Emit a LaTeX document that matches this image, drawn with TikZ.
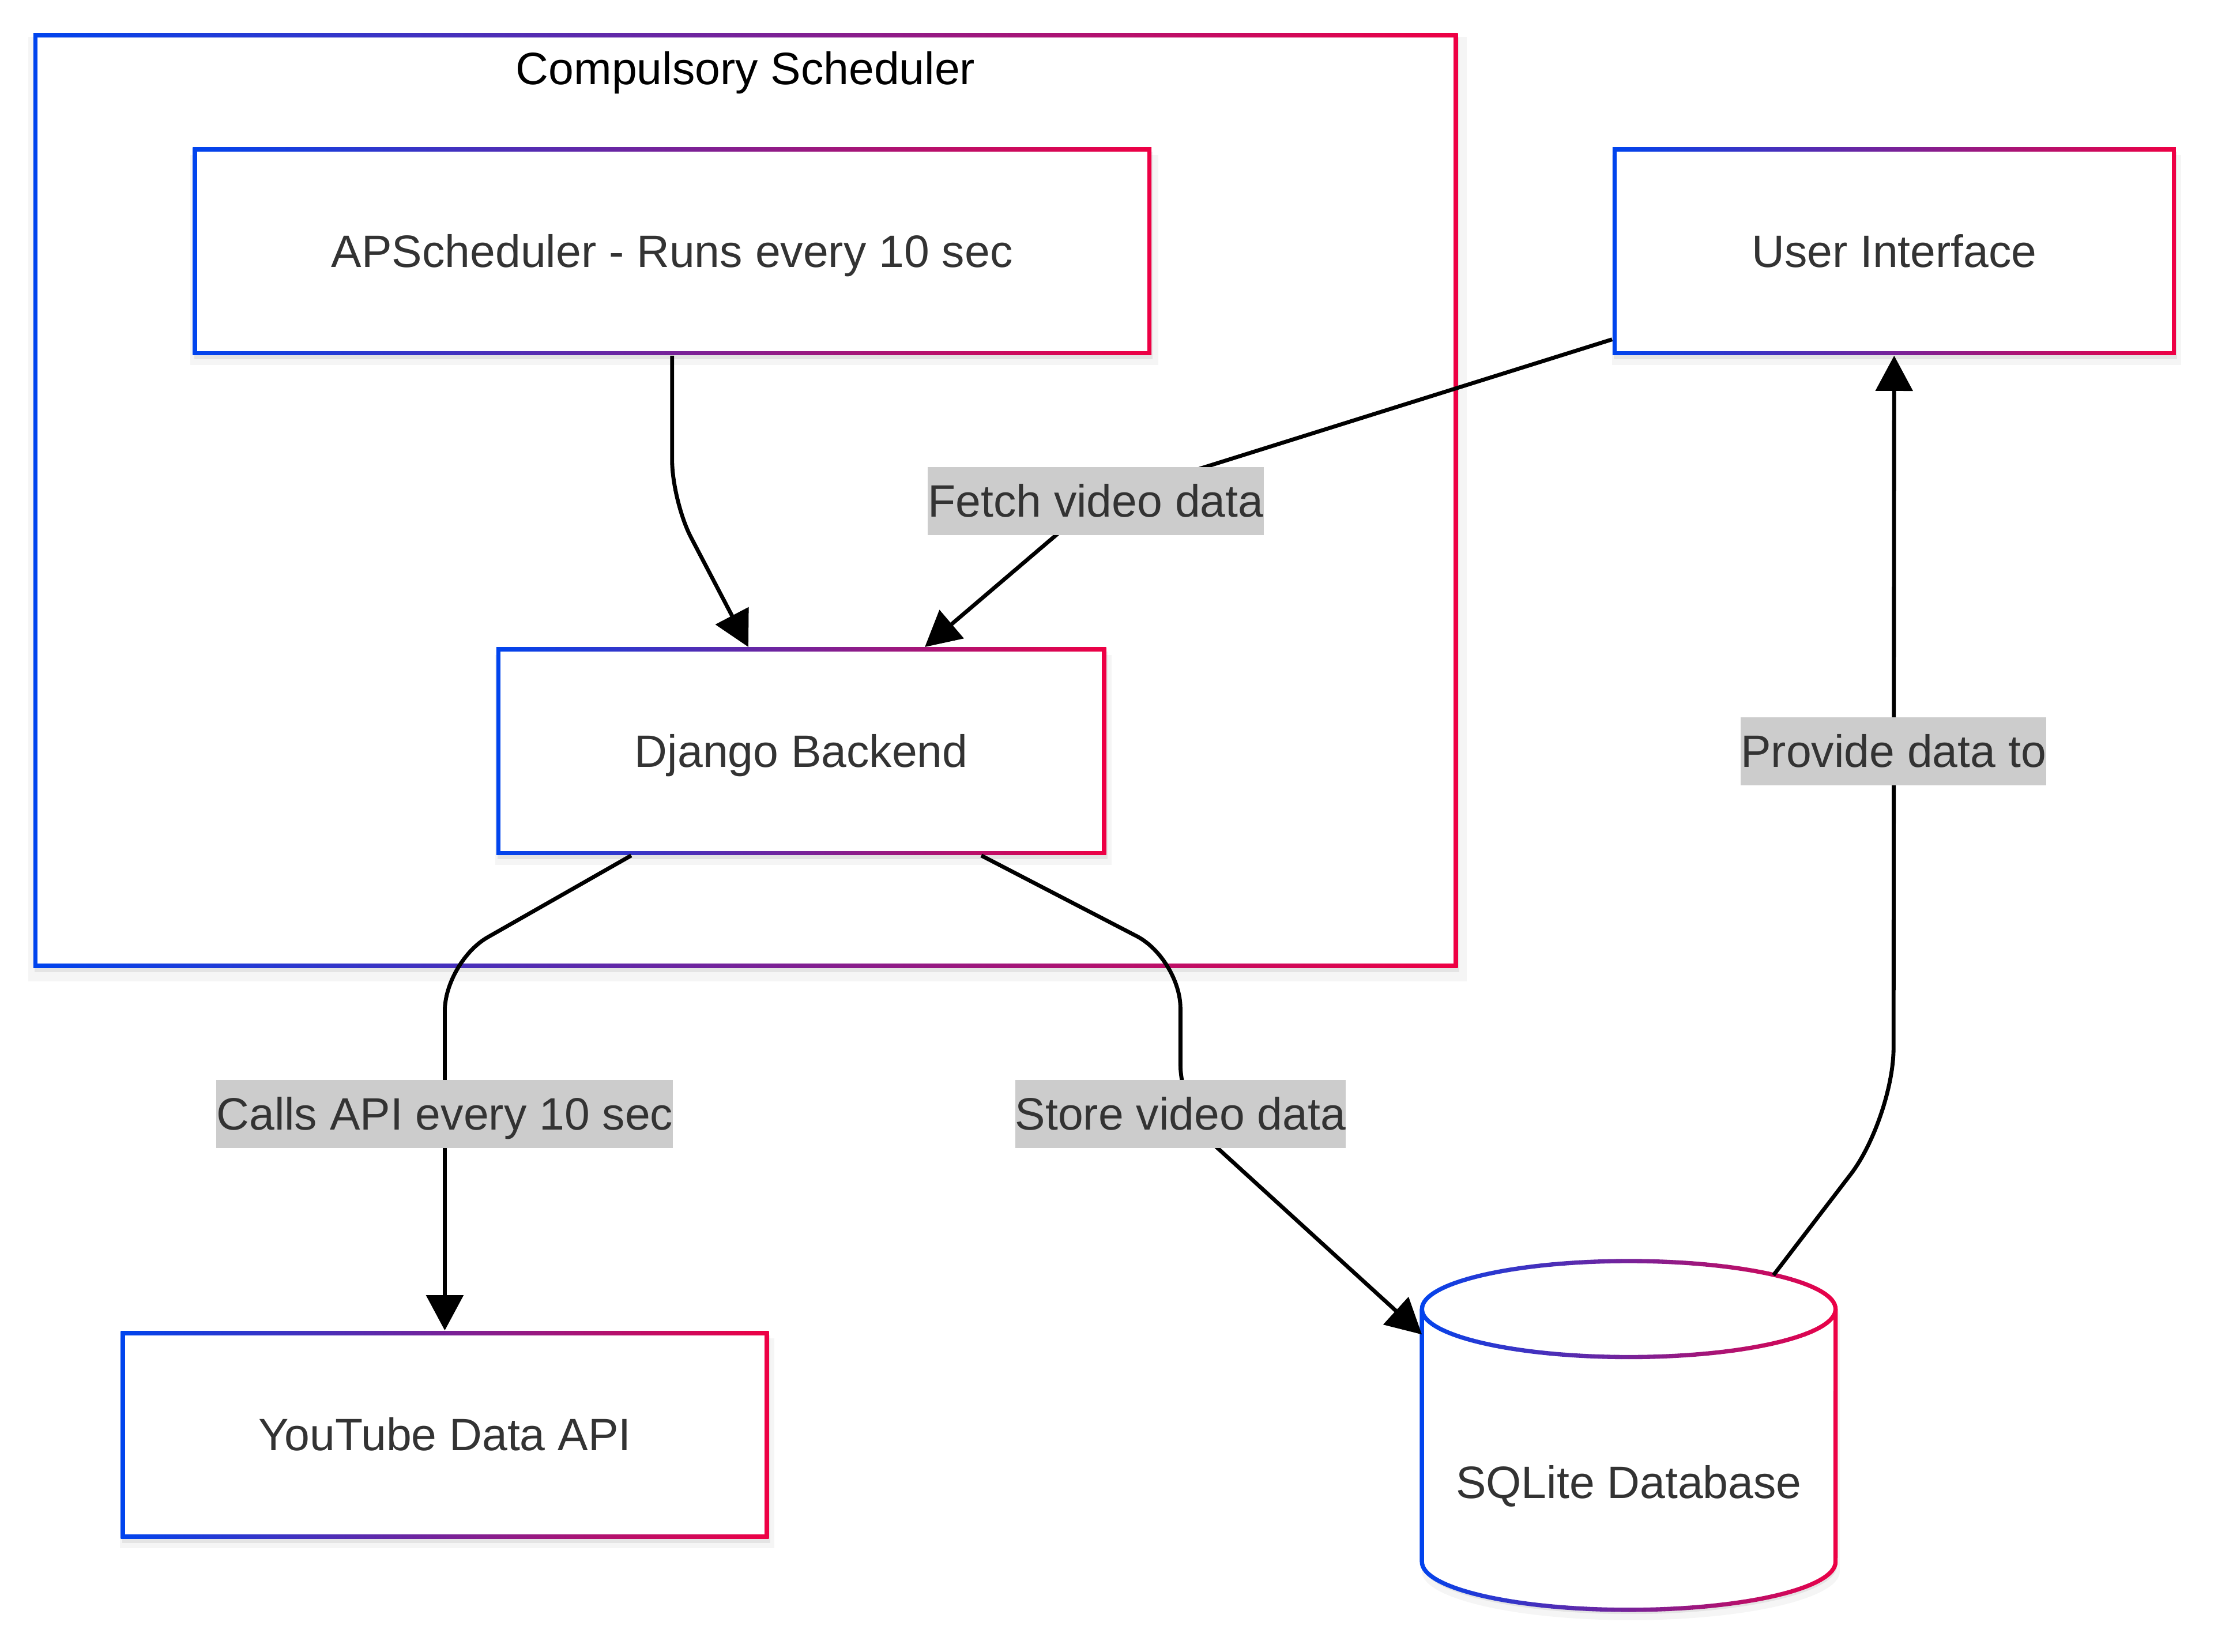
\documentclass[tikz,border=0pt]{standalone}
\usepackage{fontspec}
\setmainfont{Liberation Sans}
\usetikzlibrary{positioning,shadows,arrows.meta,calc}
\pgfdeclarelayer{background}
\pgfdeclarelayer{foreground}
\pgfsetlayers{background,main,foreground}
\definecolor{mblue}{HTML}{0044EE}
\definecolor{mred}{HTML}{EE0044}
\definecolor{ink}{HTML}{333333}
\definecolor{lblgray}{HTML}{CCCCCC}
\newcommand\diafont{\fontsize{18.3pt}{27.5pt}\selectfont}

\begin{document}
\begin{tikzpicture}[x=0.02cm, y=-0.02cm, >={Triangle[length=0.5cm,width=0.52cm]}]
	\tikzstyle{softshadow} = [drop shadow={shadow xshift=0.02cm, shadow yshift=-0.06cm, fill=black, opacity=0.07},
		drop shadow={shadow xshift=0.03cm, shadow yshift=-0.12cm, shadow scale=1.01, fill=black, opacity=0.04}]
	\tikzstyle{gradbox} = [rectangle, inner sep=0pt, left color=mblue, right color=mred, text=ink, font=\diafont,
		text height=20.06pt, text depth=7.39pt, minimum height=2.94cm, softshadow,
		path picture={\fill[white] ([shift={(0.06cm,0.06cm)}]path picture bounding box.south west) rectangle ([shift={(-0.06cm,-0.06cm)}]path picture bounding box.north east);}]
	\tikzstyle{edgelbl} = [rectangle, fill=lblgray, inner sep=0pt, text=ink, font=\diafont, text height=20.06pt, text depth=7.39pt]
	\tikzstyle{flowline} = [draw=black, line width=0.056cm]
	\useasboundingbox (0,0) rectangle (1568,1169.5);

	\node[gradbox, minimum width=20.18cm, minimum height=13.24cm] (Sched) at (528,354.5) {};
	\node[below=0.02cm of Sched.north, inner sep=0pt, font=\diafont, text height=20.06pt, text depth=7.39pt] (SchedTitle) {Compulsory Scheduler};

	\node[gradbox, minimum width=13.58cm] (APS) at (476,178) {APScheduler - Runs every 10 sec};
	\node[gradbox, minimum width=7.98cm, right=6.52cm of APS] (UI) {User Interface};
	\node[gradbox, minimum width=8.64cm] (Django) at (567.5,532) {Django Backend};
	\node[gradbox, minimum width=9.18cm] (YT) at (315,1016) {YouTube Data API};

	% database cylinder, gradient outline drawn in thin slices
	\coordinate (DBc) at (1153.5,1050);
	\begin{scope}[shift={(DBc)}]
		\fill[white, softshadow]
		(-146.5,-123) -- (-146.5,56) arc[start angle=180, end angle=360, x radius=2.93cm, y radius=0.68cm]
		-- (146.5,-123) arc[start angle=0, end angle=180, x radius=2.93cm, y radius=0.68cm] -- cycle;
		\foreach \k in {0,...,59}{
			\pgfmathsetmacro\redpc{100*(\k+0.5)/60}
			\begin{scope}
				\clip (-150+5*\k,-165) rectangle (-144.8+5*\k,95);
				\draw[line width=0.06cm, mred!\redpc!mblue] (-146.5,-123) -- (-146.5,56)
				arc[start angle=180, end angle=360, x radius=2.93cm, y radius=0.68cm] -- (146.5,-123);
				\draw[line width=0.06cm, mred!\redpc!mblue] (0,-123) ellipse [x radius=2.93cm, y radius=0.68cm];
			\end{scope}
		}
	\end{scope}
	\node[inner sep=0pt, text=ink, font=\diafont, text height=20.06pt, text depth=7.39pt] (DB) at (DBc) {SQLite Database};
	\coordinate (DBin) at ($(DBc)+(-146.5,-105)$);
	\coordinate (DBout) at ($(DBc)+(102.5,-147)$);

	\begin{pgfonlayer}{foreground}
		\node[edgelbl] (fetch) at (776,355) {Fetch video data};
		\node[edgelbl] (provide) at (1341,532) {Provide data to};
		\node[edgelbl] (calls) at (315,789) {Calls API every 10 sec};
		\node[edgelbl] (store) at (836,789) {Store video data};
	\end{pgfonlayer}

	\draw[->, flowline, rounded corners=0.58cm] (APS) -- (476,355) -- ([xshift=-0.75cm]Django.north);
	\draw[->, flowline] ([yshift=0.23cm]UI.south west) -- (fetch.center) -- ([xshift=1.75cm]Django.north);
	\draw[->, flowline, rounded corners=0.7cm] ([xshift=-2.41cm]Django.south) -- (315,681) -- (YT);
	\draw[->, flowline, rounded corners=0.7cm] ([xshift=2.55cm]Django.south) -- (836,679) -- (store.center) -- (DBin);
	\draw[->, flowline, rounded corners=1cm] (DBout) -- (1341,792) -- (UI);

\end{tikzpicture}
\end{document}
